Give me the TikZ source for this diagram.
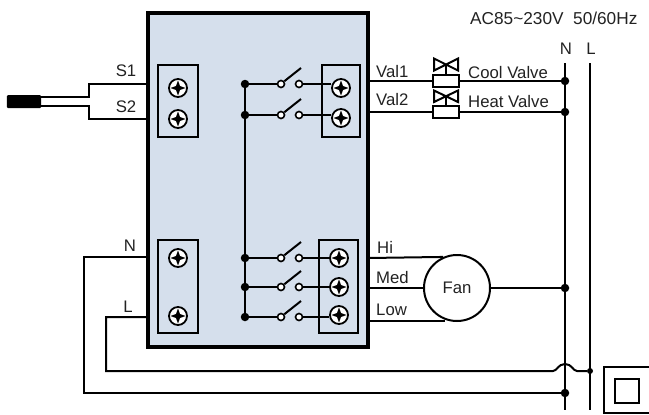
\documentclass[tikz,border=0pt]{standalone}
\usepackage{fontspec}
\setmainfont{Liberation Sans}
\definecolor{boardblue}{HTML}{D5DFEC}
\definecolor{labelgray}{HTML}{222222}
\tikzset{
  wire/.style={line width=2bp},
  board/.style={draw, line width=3.2bp, fill=boardblue, inner sep=0},
  terminal/.style={draw, line width=1.8bp, inner sep=0, minimum width=40bp},
  screwhead/.style={circle, draw, line width=1.8bp, fill=white, minimum size=18bp, inner sep=0},
  contact/.style={circle, draw, line width=1.6bp, fill=white, minimum size=7bp, inner sep=0},
  dot/.style={circle, fill=black, minimum size=8.5bp, inner sep=0},
  valvebody/.style={draw, line width=1.8bp, fill=white, minimum width=26bp, minimum height=12bp, inner sep=0},
  lbl/.style={text=labelgray, inner sep=0, font=\fontsize{16.8}{18}\selectfont},
  lblw/.style={lbl, anchor=west}
}
\newcommand{\screw}[3]{
  \node[screwhead] (#1) at (#2,#3) {};
  \fill (#1.center) ++(-7.5,0) -- ++(5.5,-2) -- ++(2,-5.5) -- ++(2,5.5) -- ++(5.5,2) -- ++(-5.5,2) -- ++(-2,5.5) -- ++(-2,-5.5) -- cycle;
}
\begin{document}
\begin{tikzpicture}[x=1bp, y=-1bp]
  \clip (0,0) rectangle (649,414);

  % ***************** BOARD *****************
  \node[board, minimum width=220bp, minimum height=334bp] (board) at (258,180) {};

  \node[terminal, minimum height=72bp] (termS) at (178,101) {};
  \screw{screwS1}{178}{88}
  \screw{screwS2}{178}{119}

  \node[terminal, minimum height=93bp] (termP) at (178,286.5) {};
  \screw{screwN}{178}{258}
  \screw{screwL}{178}{316}

  \node[terminal, minimum height=72bp, minimum width=38bp] (termV) at (341,101) {};
  \screw{screwV1}{341}{88}
  \screw{screwV2}{341}{118}

  \node[terminal, minimum height=93bp, minimum width=39bp] (termF) at (338.5,286.5) {};
  \screw{screwHi}{339}{258}
  \screw{screwMed}{339}{287}
  \screw{screwLow}{339}{315}

  % ***************** SENSOR *****************
  \node[fill=black, rounded corners=1bp, minimum width=34bp, minimum height=13bp, inner sep=0] (sensor) at (24,101.5) {};
  \coordinate (sensorS1) at (41,97);
  \coordinate (sensorS2) at (41,106);
  \coordinate (boardS1) at (148,84);
  \coordinate (boardS2) at (148,119);
  \coordinate (kneeS1) at (89,97);
  \coordinate (kneeS2) at (89,106);
  \draw[wire] (boardS1) -| (kneeS1) -- (sensorS1);
  \draw[wire] (boardS2) -| (kneeS2) -- (sensorS2);
  \node[lbl] (labelS1) at (126,71) {S1};
  \node[lbl] (labelS2) at (126,107) {S2};

  % ***************** SWITCHES *****************
  \node[dot] (busV1) at (245,84) {};
  \node[dot] (busV2) at (245,115) {};
  \node[dot] (busHi) at (245,258) {};
  \node[dot] (busMed) at (245,287) {};
  \node[dot] (busLow) at (245,317) {};
  \draw[wire] (busV1) -- (busLow);

  \node[contact] (inV1) at (281,84) {};
  \node[contact] (outV1) at (299,84) {};
  \coordinate (tipV1) at (301,68);
  \draw[wire] (busV1) -- (inV1);
  \draw[wire] (inV1.40) -- (tipV1);
  \draw[wire] (outV1) -- (outV1 -| screwV1.west);

  \node[contact] (inV2) at (281,115) {};
  \node[contact] (outV2) at (299,115) {};
  \coordinate (tipV2) at (301,99);
  \draw[wire] (busV2) -- (inV2);
  \draw[wire] (inV2.40) -- (tipV2);
  \draw[wire] (outV2) -- (outV2 -| screwV2.west);

  \node[contact] (inHi) at (281,258) {};
  \node[contact] (outHi) at (299,258) {};
  \coordinate (tipHi) at (301,242);
  \draw[wire] (busHi) -- (inHi);
  \draw[wire] (inHi.40) -- (tipHi);
  \draw[wire] (outHi) -- (screwHi);

  \node[contact] (inMed) at (281,287) {};
  \node[contact] (outMed) at (299,287) {};
  \coordinate (tipMed) at (301,271);
  \draw[wire] (busMed) -- (inMed);
  \draw[wire] (inMed.40) -- (tipMed);
  \draw[wire] (outMed) -- (screwMed);

  \node[contact] (inLow) at (281,317) {};
  \node[contact] (outLow) at (299,317) {};
  \coordinate (tipLow) at (301,301);
  \draw[wire] (busLow) -- (inLow);
  \draw[wire] (inLow.40) -- (tipLow);
  \draw[wire] (outLow) -- (outLow -| screwLow.west);

  % ***************** SUPPLY *****************
  \node[lblw, font=\fontsize{17.3}{18}\selectfont] (supply) at (470,18) {AC85\char`~230V\ \ 50/60Hz};
  \node[lbl] (labelN) at (566,49) {N};
  \node[lbl] (labelL) at (591,49) {L};
  \coordinate (lineNtop) at (565,63);
  \coordinate (lineNend) at (565,410);
  \coordinate (lineLtop) at (590,63);
  \coordinate (lineLend) at (590,410);
  \draw[wire] (lineNtop) -- (lineNend);
  \draw[wire] (lineLtop) -- (lineLend);
  \node[dot] (dotCool) at (565,81) {};
  \node[dot] (dotHeat) at (565,112) {};
  \node[dot] (dotFan) at (565,288) {};
  \node[dot] (dotN) at (565,393) {};
  \node[dot, minimum size=6bp] (dotL) at (590,371) {};

  % ***************** VALVES *****************
  \node[valvebody] (coolValve) at (446,81) {};
  \node[valvebody] (heatValve) at (446,112) {};
  \coordinate (boardVal1) at (368,81);
  \coordinate (boardVal2) at (368,112);
  \draw[wire] (boardVal1) -- (coolValve);
  \draw[wire] (coolValve) -- (dotCool);
  \draw[wire] (boardVal2) -- (heatValve);
  \draw[wire] (heatValve) -- (dotHeat);
  \draw[wire] (434,58.5) -- (458,70.5) -- (458,58.5) -- (434,70.5) -- cycle;
  \draw[wire] (446,64.5) -- (coolValve.north);
  \draw[wire] (434,90.5) -- (458,102) -- (458,90.5) -- (434,102) -- cycle;
  \draw[wire] (446,96) -- (heatValve.north);
  \node[lblw] (labelVal1) at (376,72) {Val1};
  \node[lblw] (labelVal2) at (376,100) {Val2};
  \node[lblw] (labelCool) at (468,73) {Cool Valve};
  \node[lblw] (labelHeat) at (468,102) {Heat Valve};

  % ***************** FAN *****************
  \node[circle, draw, line width=2bp, minimum size=66bp, inner sep=0, lbl] (fan) at (457,288) {Fan};
  \coordinate (boardHi) at (368,258);
  \coordinate (boardMed) at (368,288);
  \coordinate (boardLow) at (368,321);
  \coordinate (fanLow) at (445,321);
  \draw[wire] (boardHi) -- (fan.114.5);
  \draw[wire] (boardMed) -- (fan.west);
  \draw[wire] (boardLow) -- (fanLow);
  \draw[wire] (fan.east) -- (dotFan);
  \node[lblw] (labelHi) at (377,247) {Hi};
  \node[lblw] (labelMed) at (376,278) {Med};
  \node[lblw] (labelLow) at (376,310) {Low};

  % ***************** POWER WIRES *****************
  \coordinate (boardN) at (148,257);
  \coordinate (boardL) at (148,317);
  \coordinate (cornerN) at (84,393);
  \coordinate (cornerL) at (106,371);
  \coordinate (humpIn) at (553,371);
  \coordinate (humpTop) at (565,364);
  \coordinate (humpOut) at (577,371);
  \draw[wire] (boardN) -| (cornerN) -- (dotN);
  \draw[wire] (boardL) -| (cornerL) -- (humpIn)
    .. controls (557,371) and (558,364) .. (humpTop)
    .. controls (572,364) and (573,371) .. (humpOut) -- (dotL);
  \node[lbl] (labelPN) at (130,246) {N};
  \node[lbl] (labelPL) at (128,307) {L};

  % ***************** THERMOSTAT BOX *****************
  \draw[wire] (604,413) rectangle (660,367);
  \draw[wire] (615,379) rectangle (639,403);
\end{tikzpicture}
\end{document}
